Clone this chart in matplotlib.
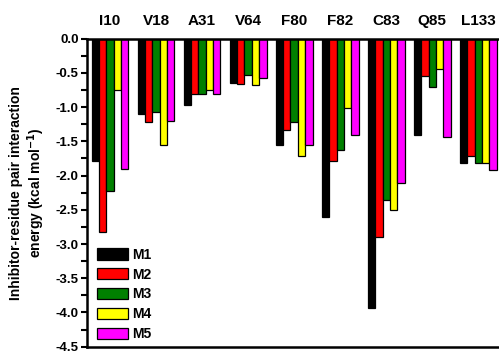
import numpy as np
import matplotlib
matplotlib.use("Agg")
import matplotlib.pyplot as plt
from matplotlib.ticker import MultipleLocator

plt.rcParams["font.family"] = ["Liberation Sans", "DejaVu Sans"]
plt.rcParams["font.weight"] = "bold"

# residues along the top axis
residues = ["I10", "V18", "A31", "V64", "F80", "F82", "C83", "Q85", "L133"]

# interaction energies (kcal/mol)
m1 = [-1.79, -1.10, -0.97, -0.65, -1.56, -2.61, -3.94, -1.41, -1.81]
m2 = [-2.82, -1.22, -0.81, -0.66, -1.34, -1.79, -2.89, -0.54, -1.72]
m3 = [-2.23, -1.07, -0.81, -0.53, -1.22, -1.62, -2.36, -0.71, -1.81]
m4 = [-0.75, -1.55, -0.75, -0.68, -1.72, -1.01, -2.50, -0.45, -1.82]
m5 = [-1.90, -1.20, -0.81, -0.57, -1.56, -1.41, -2.11, -1.43, -1.92]

series = [m1, m2, m3, m4, m5]
labels = ["M1", "M2", "M3", "M4", "M5"]
colors = ["#000000", "#ff0000", "#008000", "#ffff00", "#ff00ff"]

fig = plt.figure(figsize=(4.99, 3.51), dpi=100)
ax = fig.add_axes([87 / 499, 4.3 / 351, 1 - 87 / 499, (347 - 39) / 351])

x = np.arange(len(residues))
w = 0.16
for i, (vals, lab, col) in enumerate(zip(series, labels, colors)):
    ax.bar(x + (i - 2) * w, vals, width=w, color=col, edgecolor="black",
           linewidth=0.9, label=lab)

ax.set_xlim(-0.5, 8.45)
ax.set_ylim(-4.5, 0)
ax.xaxis.tick_top()
ax.set_xticks(x)
ax.set_xticklabels(residues, fontsize=11, fontweight="bold")
ax.tick_params(axis="x", length=0, pad=8)
ax.yaxis.set_minor_locator(MultipleLocator(0.25))
ax.tick_params(axis="y", which="both", direction="out", length=4, width=1.5,
               labelsize=9.5, pad=2)
yt = np.arange(-4.5, 0.01, 0.5)
ax.set_yticks(yt)
ax.set_yticklabels([f"{v:.1f}" for v in yt], fontweight="bold")
for s in ["top", "left", "bottom"]:
    ax.spines[s].set_linewidth(1.8)
ax.spines["right"].set_visible(False)

ax.set_ylabel("Inhibitor-residue pair interaction\nenergy (kcal mol$^{\\mathbf{-1}}$)",
              fontsize=10, fontweight="bold", labelpad=6)

leg = ax.legend(loc="lower left", frameon=False, fontsize=10, handlelength=2.25,
                handleheight=0.85, labelspacing=0.42, handletextpad=0.3,
                borderaxespad=0, bbox_to_anchor=(0.01, 0.0))
leg.set_zorder(5)

fig.savefig("out.png", dpi=100)
